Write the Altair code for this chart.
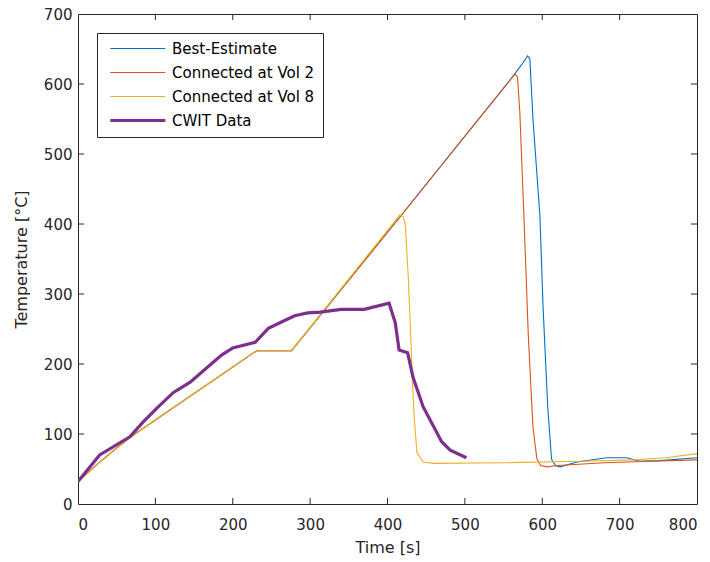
import altair as alt
import pandas as pd

series_names = ["Best-Estimate", "Connected at Vol 2", "Connected at Vol 8", "CWIT Data"]
series_colors = ["#0072BD", "#D95319", "#EDB120", "#7E2F8E"]
series_widths = [1.1, 1.1, 1.1, 3.2]

best_t = [0, 25, 50, 67, 231, 276, 416, 560, 575, 581, 584, 588, 597, 601, 607, 612, 617, 623, 645, 683, 709, 726, 752, 800]
best_T = [32, 57, 80, 95, 219, 219, 410, 608, 630, 640, 636, 550, 411, 283, 140, 64, 55, 53, 60, 66, 66, 61, 62, 66]

vol2_t = [0, 25, 50, 67, 231, 276, 416, 560, 565, 568, 571, 576, 582, 588, 593, 598, 606, 620, 680, 740, 800]
vol2_T = [32, 57, 80, 95, 219, 219, 410, 608, 614, 610, 560, 420, 240, 110, 65, 55, 53, 55, 59, 61, 63]

vol8_t = [0, 25, 50, 67, 231, 276, 416, 420, 423, 427, 434, 438, 446, 460, 550, 650, 720, 760, 800]
vol8_T = [32, 57, 80, 95, 219, 219, 413, 411, 400, 321, 131, 74, 60, 58, 59, 61, 63, 66, 72]

cwit_t = [0, 28, 67, 84, 102, 123, 145, 171, 186, 200, 229, 246, 263, 280, 297, 313, 340, 370, 402, 410, 415, 426, 433, 446, 470, 481, 502]
cwit_T = [32, 70, 96, 117, 137, 159, 174, 199, 213, 223, 231, 251, 260, 269, 273, 274, 278, 278, 287, 259, 220, 216, 181, 139, 89, 77, 66]

x_ticks = [0, 100, 200, 300, 400, 500, 600, 700, 800]
y_ticks = [0, 100, 200, 300, 400, 500, 600, 700]

rows = []
for k, (name, ts, Ts) in enumerate(zip(series_names,
                                       [best_t, vol2_t, vol8_t, cwit_t],
                                       [best_T, vol2_T, vol8_T, cwit_T])):
    for i, (t, T) in enumerate(zip(ts, Ts)):
        rows.append({"series": name, "k": k, "i": i, "t": t, "T": T})
df = pd.DataFrame(rows)

W, H = 619, 490
AX = "#262626"

xscale = alt.Scale(domain=[0, 800], nice=False, zero=False)
yscale = alt.Scale(domain=[0, 700], nice=False, zero=False)

legend = alt.Legend(
    title=None, orient="none", legendX=19, legendY=19,
    strokeColor=AX, fillColor="white", padding=8, cornerRadius=0,
    symbolType="M-0.4,0H9.6", symbolSize=121, labelFontSize=15, labelColor="#000000",
    labelOffset=52, rowPadding=8, labelLimit=300,
)

lines = alt.Chart(df).mark_line(clip=True).encode(
    x=alt.X("t:Q", scale=xscale,
            axis=alt.Axis(values=x_ticks, title="Time [s]", grid=False, ticks=False, domain=False,
                          labelPadding=13, titlePadding=7, format="d")),
    y=alt.Y("T:Q", scale=yscale,
            axis=alt.Axis(values=y_ticks, title="Temperature [°C]", grid=False, ticks=False, domain=False,
                          labelPadding=6, titlePadding=14, format="d")),
    color=alt.Color("series:N", scale=alt.Scale(domain=series_names, range=series_colors), legend=legend),
    strokeWidth=alt.StrokeWidth("series:N", scale=alt.Scale(type="ordinal", domain=series_names, range=series_widths), legend=legend),
    detail="k:O",
    order="i:Q",
)

xt = pd.DataFrame({"v": x_ticks[1:-1]})
yt = pd.DataFrame({"v": y_ticks[1:-1]})
tick_len = 6

xb = alt.Chart(xt).mark_rule(color=AX, strokeWidth=1).encode(
    x=alt.X("v:Q", scale=xscale), y=alt.value(H), y2=alt.value(H - tick_len))
xtop = alt.Chart(xt).mark_rule(color=AX, strokeWidth=1).encode(
    x=alt.X("v:Q", scale=xscale), y=alt.value(0), y2=alt.value(tick_len))
yl = alt.Chart(yt).mark_rule(color=AX, strokeWidth=1).encode(
    y=alt.Y("v:Q", scale=yscale), x=alt.value(0), x2=alt.value(tick_len))
yr = alt.Chart(yt).mark_rule(color=AX, strokeWidth=1).encode(
    y=alt.Y("v:Q", scale=yscale), x=alt.value(W), x2=alt.value(W - tick_len))

chart = alt.layer(xb, xtop, yl, yr, lines).properties(
    width=W, height=H,
    padding={"left": 78, "top": 14, "right": 13, "bottom": 58},
    autosize=alt.AutoSizeParams(type="none"),
).configure(font="DejaVu Sans").configure_view(
    stroke=AX, strokeWidth=1
).configure_axis(
    labelFontSize=15, labelColor=AX, titleFontSize=16, titleColor=AX, titleFontWeight="normal",
    labelFont="DejaVu Sans", titleFont="DejaVu Sans"
).configure_legend(labelFont="DejaVu Sans")

chart.save("out.html", embed_options={"renderer": "svg", "actions": False})
